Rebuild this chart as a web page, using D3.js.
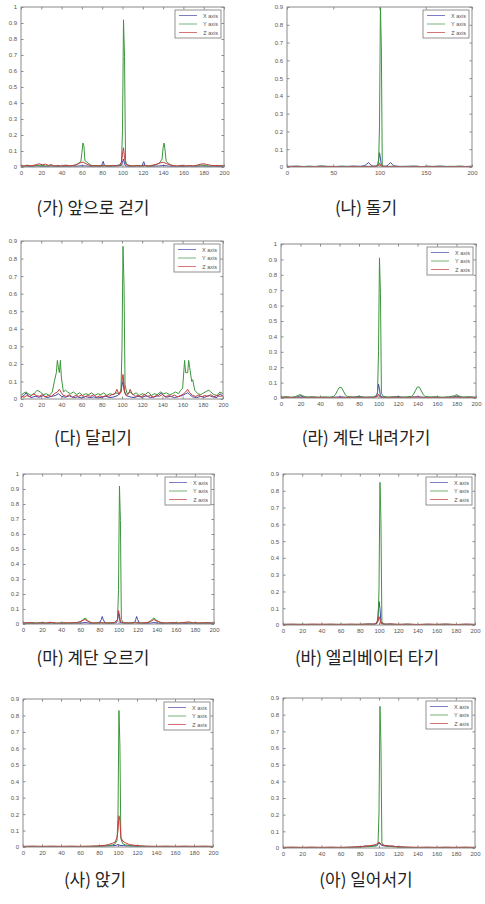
<!DOCTYPE html>
<html>
<head>
<meta charset="utf-8">
<script src="https://cdn.jsdelivr.net/npm/d3@7"></script>
<style>
  html, body { margin: 0; padding: 0; background: #fff; }
  svg { display: block; }
</style>
</head>
<body>
<svg id="fig" width="485" height="904"></svg>
<script>
// ---- tick values ----
const yTicksTo1 = [0, 0.1, 0.2, 0.3, 0.4, 0.5, 0.6, 0.7, 0.8, 0.9, 1];
const yTicksTo09 = [0, 0.1, 0.2, 0.3, 0.4, 0.5, 0.6, 0.7, 0.8, 0.9];
const xTicksBy20 = [0, 20, 40, 60, 80, 100, 120, 140, 160, 180, 200];
const xTicksBy50 = [0, 50, 100, 150, 200];

const seriesNames = ["X axis", "Y axis", "Z axis"];
const seriesColors = ["#4646a8", "#3c963c", "#c43c3c"];

// ---- (가) 앞으로 걷기 ----
const walkX = [[0,.004],[5,.006],[10,.003],[15,.007],[20,.005],[25,.004],[30,.006],[35,.003],[40,.005],[45,.004],[50,.006],[55,.005],[60,.008],[65,.006],[70,.004],[75,.005],[79,.004],[80,.02],[81,.035],[82,.012],[84,.004],[90,.005],[95,.006],[99,.01],[100,.03],[101,.05],[102,.02],[103,.006],[108,.004],[114,.006],[119,.005],[120,.02],[121,.033],[122,.01],[124,.004],[130,.005],[135,.006],[140,.009],[145,.006],[150,.004],[155,.005],[160,.003],[165,.006],[170,.004],[175,.005],[180,.007],[185,.004],[190,.005],[195,.003],[200,.005]];
const walkY = [[0,.008],[4,.004],[8,.01],[12,.005],[16,.009],[20,.012],[24,.006],[28,.01],[32,.005],[36,.008],[40,.004],[44,.009],[48,.006],[52,.01],[55,.015],[57,.025],[59,.035],[60,.09],[61,.15],[62,.13],[63,.04],[65,.03],[67,.02],[70,.008],[74,.006],[78,.01],[82,.005],[86,.009],[90,.006],[94,.01],[98,.012],[99,.03],[100,.23],[101,.92],[102,.69],[103,.04],[104,.015],[108,.008],[112,.005],[116,.01],[120,.006],[124,.009],[128,.005],[132,.012],[135,.02],[137,.03],[139,.05],[140,.12],[141,.15],[142,.1],[143,.035],[145,.025],[147,.015],[150,.008],[154,.005],[158,.01],[162,.006],[166,.009],[170,.005],[174,.01],[178,.012],[182,.008],[186,.005],[190,.01],[194,.006],[198,.009],[200,.005]];
const walkZ = [[0,.01],[3,.005],[6,.012],[9,.006],[12,.01],[15,.015],[18,.02],[21,.014],[24,.018],[27,.01],[30,.015],[33,.006],[36,.01],[40,.005],[44,.012],[48,.007],[52,.01],[55,.015],[58,.025],[60,.03],[62,.028],[64,.02],[67,.012],[70,.006],[74,.01],[78,.005],[82,.009],[86,.006],[90,.01],[94,.007],[97,.012],[99,.03],[100,.08],[101,.12],[102,.06],[103,.02],[106,.01],[110,.006],[114,.01],[118,.005],[122,.009],[126,.006],[130,.012],[134,.018],[137,.025],[140,.03],[143,.022],[146,.015],[150,.008],[154,.005],[158,.01],[162,.006],[166,.009],[170,.007],[174,.012],[177,.018],[180,.02],[183,.016],[186,.012],[190,.008],[194,.01],[197,.006],[200,.008]];

// ---- (나) 돌기 ----
const turnX = [[0,.003],[8,.005],[16,.002],[24,.004],[32,.003],[40,.005],[48,.002],[56,.004],[64,.003],[72,.005],[80,.004],[84,.008],[86,.015],[88,.025],[90,.015],[92,.006],[95,.004],[98,.01],[99,.04],[100,.08],[101,.05],[102,.008],[105,.004],[108,.006],[110,.015],[112,.025],[114,.014],[116,.006],[120,.004],[128,.003],[136,.005],[144,.002],[152,.004],[160,.003],[168,.005],[176,.002],[184,.004],[192,.003],[200,.004]];
const turnY = [[0,.004],[6,.002],[12,.005],[18,.003],[24,.004],[30,.002],[36,.006],[42,.003],[48,.004],[54,.002],[60,.005],[66,.003],[72,.004],[78,.002],[84,.005],[90,.003],[95,.004],[98,.006],[99,.02],[100,.23],[101,.9],[102,.67],[103,.01],[104,.004],[110,.003],[116,.005],[122,.002],[128,.004],[134,.003],[140,.005],[146,.002],[152,.004],[158,.003],[164,.005],[170,.002],[176,.004],[182,.003],[188,.005],[194,.002],[200,.004]];
const turnZ = [[0,.002],[10,.003],[20,.001],[30,.003],[40,.002],[50,.003],[60,.001],[70,.003],[80,.002],[90,.003],[97,.004],[99,.008],[100,.02],[101,.012],[102,.004],[110,.002],[120,.003],[130,.001],[140,.003],[150,.002],[160,.003],[170,.001],[180,.003],[190,.002],[200,.003]];

// ---- (다) 달리기 ----
const runX = [[0,.01],[3,.02],[5,.035],[7,.02],[10,.008],[14,.015],[18,.01],[22,.02],[26,.008],[30,.015],[34,.02],[37,.03],[40,.015],[44,.01],[48,.018],[52,.008],[56,.012],[60,.006],[64,.014],[68,.008],[72,.012],[76,.006],[80,.01],[84,.015],[88,.008],[92,.012],[96,.02],[99,.04],[100,.08],[101,.1],[102,.05],[104,.02],[108,.012],[112,.008],[116,.015],[120,.01],[124,.018],[128,.008],[132,.012],[136,.02],[139,.035],[141,.02],[144,.01],[148,.015],[152,.008],[156,.014],[160,.02],[163,.03],[165,.035],[167,.025],[170,.012],[174,.008],[178,.015],[182,.01],[186,.02],[190,.012],[194,.008],[197,.03],[200,.015]];
const runY = [[0,.02],[3,.035],[5,.04],[7,.03],[10,.02],[13,.03],[16,.05],[19,.04],[22,.025],[25,.03],[28,.02],[31,.04],[33,.1],[35,.15],[36,.22],[37,.18],[38,.15],[39,.22],[40,.12],[42,.04],[44,.05],[46,.04],[49,.03],[52,.04],[55,.025],[58,.035],[61,.02],[64,.03],[67,.025],[70,.035],[73,.02],[76,.03],[79,.025],[82,.035],[85,.02],[88,.03],[91,.025],[94,.035],[97,.03],[99,.05],[100,.3],[101,.87],[102,.65],[103,.08],[105,.03],[108,.04],[111,.025],[114,.035],[117,.02],[120,.03],[123,.025],[126,.04],[129,.02],[132,.03],[135,.025],[138,.04],[141,.03],[144,.035],[147,.025],[150,.03],[153,.04],[156,.03],[158,.05],[160,.06],[162,.22],[163,.15],[165,.15],[166,.22],[167,.18],[169,.1],[170,.11],[172,.05],[175,.03],[178,.025],[181,.035],[184,.045],[186,.05],[188,.04],[191,.025],[194,.02],[197,.04],[200,.03]];
const runZ = [[0,.015],[3,.01],[6,.02],[9,.012],[12,.03],[15,.02],[18,.015],[21,.025],[24,.01],[27,.02],[30,.015],[33,.03],[36,.04],[38,.055],[40,.035],[42,.02],[45,.015],[48,.025],[51,.01],[54,.02],[57,.015],[60,.022],[63,.012],[66,.02],[69,.015],[72,.025],[75,.01],[78,.018],[81,.012],[84,.02],[87,.015],[90,.025],[93,.03],[95,.055],[97,.025],[99,.04],[100,.1],[101,.14],[102,.08],[103,.03],[105,.02],[107,.035],[108,.055],[110,.03],[113,.015],[116,.02],[119,.012],[122,.025],[125,.015],[128,.02],[131,.01],[134,.02],[137,.015],[140,.025],[143,.012],[146,.02],[149,.015],[152,.022],[155,.012],[158,.02],[161,.03],[163,.04],[165,.055],[167,.035],[170,.02],[173,.015],[176,.022],[179,.012],[182,.02],[185,.015],[188,.025],[191,.012],[194,.02],[197,.015],[200,.02]];

// ---- (라) 계단 내려가기 ----
const downX = [[0,.004],[6,.006],[12,.003],[17,.008],[20,.015],[23,.008],[28,.004],[34,.006],[40,.003],[46,.005],[52,.004],[58,.006],[62,.008],[66,.005],[72,.004],[77,.007],[80,.012],[83,.006],[88,.004],[94,.005],[98,.01],[99,.04],[100,.09],[101,.06],[102,.01],[106,.005],[112,.004],[117,.007],[120,.01],[123,.006],[128,.004],[134,.006],[140,.008],[146,.005],[152,.004],[158,.006],[164,.003],[170,.005],[176,.006],[180,.012],[183,.007],[188,.004],[194,.006],[200,.004]];
const downY = [[0,.006],[5,.008],[10,.004],[15,.01],[18,.018],[20,.022],[22,.015],[26,.006],[32,.008],[38,.004],[44,.007],[50,.005],[54,.01],[56,.025],[58,.05],[60,.07],[62,.068],[64,.045],[66,.02],[68,.01],[74,.006],[80,.008],[86,.005],[92,.007],[96,.006],[99,.03],[100,.3],[101,.91],[102,.68],[103,.03],[105,.01],[110,.006],[116,.008],[122,.005],[128,.007],[134,.01],[136,.025],[138,.05],[140,.072],[142,.07],[144,.045],[146,.02],[148,.01],[154,.006],[160,.008],[166,.005],[172,.007],[178,.015],[180,.022],[182,.015],[186,.006],[192,.008],[198,.005],[200,.006]];
const downZ = [[0,.003],[8,.005],[16,.002],[24,.004],[32,.003],[40,.005],[48,.002],[56,.004],[64,.003],[72,.005],[80,.003],[88,.004],[95,.003],[99,.01],[100,.025],[101,.015],[102,.004],[108,.003],[116,.005],[124,.002],[132,.004],[140,.006],[148,.003],[156,.004],[164,.002],[172,.004],[180,.005],[188,.003],[196,.004],[200,.003]];

// ---- (마) 계단 오르기 ----
const upX = [[0,.004],[6,.006],[12,.003],[18,.005],[24,.004],[30,.006],[36,.003],[42,.005],[48,.004],[54,.006],[60,.005],[65,.01],[70,.005],[76,.004],[80,.008],[82,.03],[83,.05],[84,.03],[86,.006],[92,.004],[98,.008],[99,.03],[100,.07],[101,.04],[102,.008],[108,.004],[114,.006],[117,.01],[118,.03],[119,.05],[120,.03],[122,.006],[128,.004],[134,.006],[137,.01],[142,.005],[148,.004],[154,.006],[160,.003],[166,.005],[172,.004],[178,.006],[184,.003],[190,.005],[196,.004],[200,.005]];
const upY = [[0,.008],[5,.004],[10,.01],[15,.006],[20,.009],[25,.005],[30,.01],[35,.006],[40,.008],[45,.004],[50,.009],[55,.006],[59,.012],[62,.025],[65,.04],[67,.03],[69,.015],[73,.006],[78,.009],[84,.005],[90,.008],[95,.006],[99,.03],[100,.23],[101,.92],[102,.69],[103,.03],[105,.01],[110,.006],[116,.009],[122,.005],[128,.008],[132,.012],[135,.03],[137,.04],[139,.03],[142,.015],[146,.008],[152,.005],[158,.009],[164,.006],[170,.01],[176,.005],[182,.008],[188,.006],[194,.009],[200,.006]];
const upZ = [[0,.006],[6,.01],[12,.005],[18,.008],[24,.006],[28,.012],[32,.007],[38,.005],[44,.009],[50,.006],[56,.01],[60,.015],[63,.025],[65,.03],[68,.018],[72,.008],[78,.006],[84,.009],[90,.006],[96,.01],[99,.03],[100,.09],[101,.06],[102,.015],[106,.008],[112,.006],[118,.009],[124,.006],[130,.01],[134,.018],[137,.03],[140,.02],[144,.01],[150,.006],[156,.009],[162,.006],[168,.01],[174,.014],[178,.008],[184,.006],[190,.009],[196,.006],[200,.008]];

// ---- (바) 엘리베이터 타기 ----
const elevX = [[0,.003],[10,.004],[20,.002],[30,.004],[40,.003],[50,.004],[60,.002],[70,.004],[80,.003],[86,.005],[90,.006],[94,.004],[98,.01],[99,.06],[100,.14],[101,.1],[102,.02],[104,.006],[108,.004],[112,.006],[116,.004],[122,.003],[130,.004],[140,.002],[150,.004],[160,.003],[170,.004],[180,.002],[190,.004],[200,.003]];
const elevY = [[0,.004],[10,.003],[20,.005],[30,.003],[40,.004],[50,.003],[60,.005],[70,.003],[80,.004],[90,.005],[96,.004],[99,.03],[100,.21],[101,.85],[102,.63],[103,.02],[105,.005],[110,.004],[120,.003],[130,.005],[140,.003],[150,.004],[160,.003],[170,.005],[180,.003],[190,.004],[200,.003]];
const elevZ = [[0,.004],[10,.005],[20,.003],[30,.005],[40,.004],[50,.005],[60,.003],[70,.005],[80,.004],[90,.005],[96,.006],[99,.02],[100,.05],[101,.035],[102,.008],[106,.005],[112,.006],[120,.004],[130,.005],[140,.003],[150,.005],[160,.004],[170,.005],[180,.003],[190,.005],[200,.004]];

// ---- (사) 앉기 ----
const sitX = [[0,.002],[10,.003],[20,.002],[30,.003],[40,.002],[50,.003],[60,.002],[70,.003],[80,.004],[88,.006],[94,.008],[98,.01],[100,.015],[102,.01],[106,.008],[112,.006],[120,.004],[130,.003],[140,.002],[150,.003],[160,.002],[170,.003],[180,.002],[190,.003],[200,.002]];
const sitY = [[0,.003],[10,.004],[20,.003],[30,.004],[40,.003],[50,.004],[60,.003],[70,.004],[80,.005],[88,.008],[94,.012],[97,.02],[99,.04],[100,.2],[101,.83],[102,.62],[103,.05],[105,.02],[108,.012],[114,.008],[120,.005],[130,.004],[140,.003],[150,.004],[160,.003],[170,.004],[180,.003],[190,.004],[200,.003]];
const sitZ = [[0,.004],[10,.005],[20,.004],[30,.005],[40,.004],[50,.005],[60,.004],[70,.005],[80,.007],[86,.01],[90,.015],[94,.022],[97,.03],[99,.06],[100,.1],[101,.19],[102,.16],[103,.06],[105,.035],[108,.025],[112,.015],[118,.01],[124,.007],[130,.005],[140,.004],[150,.005],[160,.004],[170,.005],[180,.004],[190,.005],[200,.004]];

// ---- (아) 일어서기 ----
const standX = [[0,.002],[10,.003],[20,.002],[30,.003],[40,.002],[50,.003],[60,.003],[70,.004],[76,.006],[82,.008],[86,.012],[90,.01],[94,.015],[97,.012],[99,.02],[100,.03],[101,.025],[103,.015],[106,.012],[110,.01],[114,.012],[118,.008],[124,.005],[130,.003],[140,.002],[150,.003],[160,.002],[170,.003],[180,.002],[190,.003],[200,.002]];
const standY = [[0,.003],[10,.004],[20,.003],[30,.004],[40,.003],[50,.004],[60,.003],[70,.004],[80,.005],[88,.008],[94,.01],[98,.015],[99,.03],[100,.21],[101,.85],[102,.63],[103,.03],[105,.015],[110,.01],[116,.007],[122,.005],[130,.004],[140,.003],[150,.004],[160,.003],[170,.004],[180,.003],[190,.004],[200,.003]];
const standZ = [[0,.004],[10,.005],[20,.004],[30,.005],[40,.004],[50,.005],[60,.004],[70,.005],[78,.007],[84,.01],[90,.014],[95,.018],[98,.025],[100,.035],[101,.03],[103,.02],[107,.015],[112,.012],[118,.008],[126,.006],[134,.005],[140,.004],[150,.005],[160,.004],[170,.005],[180,.004],[190,.005],[200,.004]];

// ---- panel captions and series bundles ----
const captions = ["(가) 앞으로 걷기", "(나) 돌기", "(다) 달리기", "(라) 계단 내려가기",
                  "(마) 계단 오르기", "(바) 엘리베이터 타기", "(사) 앉기", "(아) 일어서기"];
const panelSeries = [
  [walkX, walkY, walkZ], [turnX, turnY, turnZ], [runX, runY, runZ], [downX, downY, downZ],
  [upX, upY, upZ], [elevX, elevY, elevZ], [sitX, sitY, sitZ], [standX, standY, standZ]
];
const panelYTicks = [yTicksTo1, yTicksTo09, yTicksTo09, yTicksTo1, yTicksTo1, yTicksTo09, yTicksTo09, yTicksTo09];
const panelXTicks = [xTicksBy20, xTicksBy50, xTicksBy20, xTicksBy20, xTicksBy20, xTicksBy20, xTicksBy20, xTicksBy20];

// ---- page layout: axes frame [left, top, right, bottom] and caption centre ----
const frames = [
  [21, 7, 224, 167], [287, 7, 472, 167],
  [21, 241, 223, 399], [281, 244, 476, 398],
  [23, 474, 214, 624], [283, 474, 475, 625],
  [23, 699, 213, 847], [283, 698, 475, 848]
];
const captionPos = [[93, 214], [366, 214], [93, 444], [366, 444], [93, 664], [367, 664], [95, 886], [366, 886]];

const svg = d3.select("#fig");
const fmt = v => (v === 0 ? "0" : String(v));

frames.forEach((fr, i) => {
  const [l, t, r, b] = fr;
  const yTicks = panelYTicks[i];
  const xTicks = panelXTicks[i];
  const x = d3.scaleLinear().domain([0, 200]).range([l, r]);
  const y = d3.scaleLinear().domain([0, yTicks[yTicks.length - 1]]).range([b, t]);
  const g = svg.append("g");

  const clipId = "clip" + i;
  g.append("clipPath").attr("id", clipId)
    .append("rect").attr("x", l).attr("y", t).attr("width", r - l).attr("height", b - t);

  // axes with inward ticks on all four sides
  const tickStyle = sel => {
    sel.select(".domain").remove();
    sel.selectAll(".tick line").attr("stroke", "#8a8a8a");
    sel.selectAll(".tick text").attr("fill", "#555").attr("font-size", "6px")
      .attr("font-family", "'Liberation Sans', Arial, sans-serif");
  };
  g.append("g").attr("transform", `translate(0,${b})`)
    .call(d3.axisBottom(x).tickValues(xTicks).tickFormat(fmt).tickSizeInner(-2.5).tickPadding(4))
    .call(tickStyle);
  g.append("g").attr("transform", `translate(0,${t})`)
    .call(d3.axisTop(x).tickValues(xTicks).tickFormat("").tickSizeInner(-2.5))
    .call(tickStyle);
  g.append("g").attr("transform", `translate(${l},0)`)
    .call(d3.axisLeft(y).tickValues(yTicks).tickFormat(fmt).tickSizeInner(-2.5).tickPadding(4))
    .call(tickStyle);
  g.append("g").attr("transform", `translate(${r},0)`)
    .call(d3.axisRight(y).tickValues(yTicks).tickFormat("").tickSizeInner(-2.5))
    .call(tickStyle);

  // data lines
  const line = d3.line().x(d => x(d[0])).y(d => y(d[1]));
  const lines = g.append("g").attr("clip-path", `url(#${clipId})`);
  panelSeries[i].forEach((s, k) => {
    lines.append("path").datum(s).attr("d", line)
      .attr("fill", "none").attr("stroke", seriesColors[k])
      .attr("stroke-width", 1).attr("stroke-linejoin", "round");
  });

  // frame
  g.append("rect").attr("x", l).attr("y", t).attr("width", r - l).attr("height", b - t)
    .attr("fill", "none").attr("stroke", "#8a8a8a").attr("stroke-width", 1);

  // legend
  const lw = 46, lh = 28;
  const lx = r - lw - 3, ly = t + 3;
  const leg = g.append("g");
  leg.append("rect").attr("x", lx).attr("y", ly).attr("width", lw).attr("height", lh)
    .attr("fill", "#fff").attr("stroke", "#777").attr("stroke-width", 0.8);
  seriesNames.forEach((name, k) => {
    const yy = ly + 5.5 + k * 8.5;
    leg.append("line").attr("x1", lx + 4).attr("x2", lx + 22).attr("y1", yy).attr("y2", yy)
      .attr("stroke", seriesColors[k]).attr("stroke-width", 1).attr("stroke-opacity", 0.7);
    leg.append("text").attr("x", lx + lw - 3).attr("y", yy + 2)
      .attr("text-anchor", "end").attr("font-size", "5.5px").attr("fill", "#555")
      .attr("font-family", "'Liberation Sans', Arial, sans-serif").text(name);
  });

  // caption
  svg.append("text").attr("x", captionPos[i][0]).attr("y", captionPos[i][1])
    .attr("text-anchor", "middle").attr("font-size", "17px").attr("fill", "#222")
    .attr("font-family", "'Noto Sans CJK KR', sans-serif").text(captions[i]);
});
</script>
</body>
</html>
